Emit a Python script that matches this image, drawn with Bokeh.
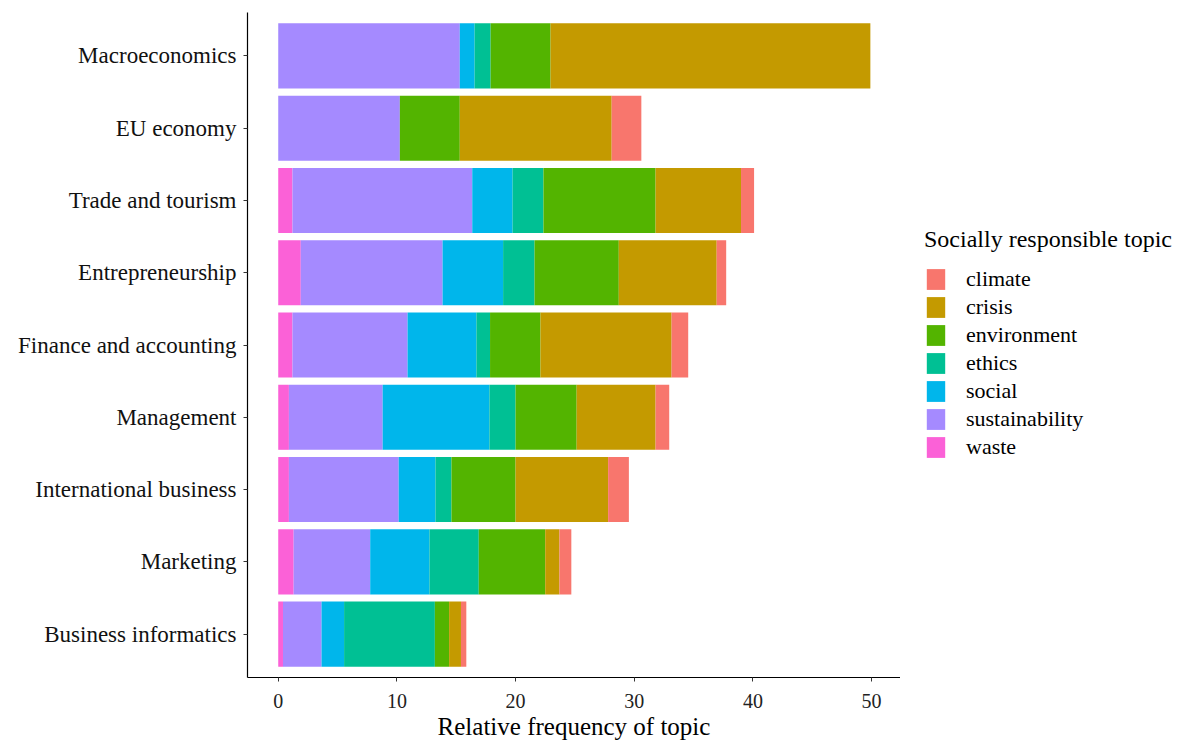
from bokeh.plotting import figure
from bokeh.layouts import row
from bokeh.models import ColumnDataSource, FactorRange, Range1d, Legend, LegendItem, FixedTicker
from bokeh.embed import file_html
from bokeh.resources import INLINE

categories = ["Macroeconomics", "EU economy", "Trade and tourism", "Entrepreneurship",
              "Finance and accounting", "Management", "International business",
              "Marketing", "Business informatics"]

waste = [0.0, 0.0, 1.2, 1.9, 1.2, 0.9, 0.9, 1.3, 0.4]
sustainability = [15.3, 10.25, 15.15, 11.95, 9.7, 7.9, 9.25, 6.45, 3.25]
social = [1.25, 0.0, 3.4, 5.1, 5.8, 9.0, 3.1, 5.0, 1.9]
ethics = [1.35, 0.0, 2.6, 2.65, 1.15, 2.2, 1.35, 4.15, 7.65]
environment = [5.05, 5.05, 9.45, 7.1, 4.25, 5.15, 5.4, 5.6, 1.2]
crisis = [26.95, 12.8, 7.2, 8.25, 11.05, 6.65, 7.8, 1.2, 1.0]
climate = [0.0, 2.5, 1.1, 0.8, 1.4, 1.15, 1.75, 1.0, 0.45]

stack_order = ["waste", "sustainability", "social", "ethics", "environment", "crisis", "climate"]
legend_order = ["climate", "crisis", "environment", "ethics", "social", "sustainability", "waste"]
topic_colors = {
    "climate": "#F8766D",
    "crisis": "#C49A00",
    "environment": "#53B400",
    "ethics": "#00C094",
    "social": "#00B6EB",
    "sustainability": "#A58AFF",
    "waste": "#FB61D7",
}
x_ticks = [0, 10, 20, 30, 40, 50]
x_title = "Relative frequency of topic"
legend_title = "Socially responsible topic"

source = ColumnDataSource(dict(
    category=categories, waste=waste, sustainability=sustainability, social=social,
    ethics=ethics, environment=environment, crisis=crisis, climate=climate,
))

FONT = "Liberation Serif"
H = 742
W_MAIN, W_LEG = 900, 287
BL, BT, BB = 247, 12, 65

y_range = FactorRange(factors=list(reversed(categories)), range_padding=0.1,
                      range_padding_units="absolute")

# ---------------- main chart ----------------
p = figure(
    width=W_MAIN, height=H, y_range=y_range, x_range=Range1d(-2.59, 52.44),
    output_backend="svg", toolbar_location=None,
    min_border_left=BL, min_border_right=0, min_border_top=BT, min_border_bottom=BB,
)
p.outline_line_color = None
p.xgrid.visible = False
p.ygrid.visible = False

p.hbar_stack(stack_order, y="category", height=0.9, source=source,
             color=[topic_colors[s] for s in stack_order], line_color=None)

p.xaxis.ticker = FixedTicker(ticks=x_ticks)
p.xaxis.minor_tick_line_color = None
p.xaxis.major_tick_out = 4
p.xaxis.major_tick_in = 0
p.xaxis.major_label_standoff = 12
p.xaxis.major_label_text_font = FONT
p.xaxis.major_label_text_font_size = "20px"
p.xaxis.major_label_text_color = "#222222"
p.xaxis.axis_label = x_title
p.xaxis.axis_label_standoff = 2
p.xaxis.axis_label_text_font = FONT
p.xaxis.axis_label_text_font_size = "25px"
p.xaxis.axis_label_text_font_style = "normal"
p.xaxis.axis_label_text_color = "black"
p.xaxis.axis_line_color = "black"
p.xaxis.axis_line_width = 1.2
p.xaxis.major_tick_line_color = "#333333"

p.yaxis.major_tick_out = 4
p.yaxis.major_tick_in = 0
p.yaxis.major_label_standoff = 7
p.yaxis.major_label_text_font = FONT
p.yaxis.major_label_text_font_size = "23px"
p.yaxis.major_label_text_color = "#111111"
p.yaxis.axis_line_color = "black"
p.yaxis.axis_line_width = 1.2
p.yaxis.major_tick_line_color = "#333333"

# ---------------- legend panel ----------------
# Same stacked bars, drawn over an x range where they are out of view; they only
# serve as the legend's glyph sources.
q = figure(
    width=W_LEG, height=H, y_range=y_range, x_range=Range1d(-2, -1),
    output_backend="svg", toolbar_location=None,
    min_border_left=0, min_border_right=0, min_border_top=BT, min_border_bottom=BB,
)
q.axis.visible = False
q.grid.visible = False
q.outline_line_color = None

proxy = q.hbar_stack(stack_order, y="category", height=0.9, source=source,
                     color=[topic_colors[s] for s in stack_order], line_color=None)
pmap = dict(zip(stack_order, proxy))
items = [LegendItem(label=name, renderers=[pmap[name]]) for name in legend_order]

legend = Legend(items=items, location=(24, 217))
legend.title = legend_title
legend.title_text_font = FONT
legend.title_text_font_size = "24px"
legend.title_text_font_style = "normal"
legend.title_text_color = "black"
legend.title_standoff = 13
legend.label_text_font = FONT
legend.label_text_font_size = "22px"
legend.label_text_color = "black"
legend.glyph_width = 23
legend.glyph_height = 26
legend.label_height = 26
legend.label_standoff = 19
legend.spacing = 2
legend.padding = 10
legend.margin = 0
legend.border_line_color = None
legend.background_fill_alpha = 0
q.add_layout(legend, "center")

layout = row(p, q, spacing=0)
open("out.html", "w").write(file_html(layout, INLINE))
